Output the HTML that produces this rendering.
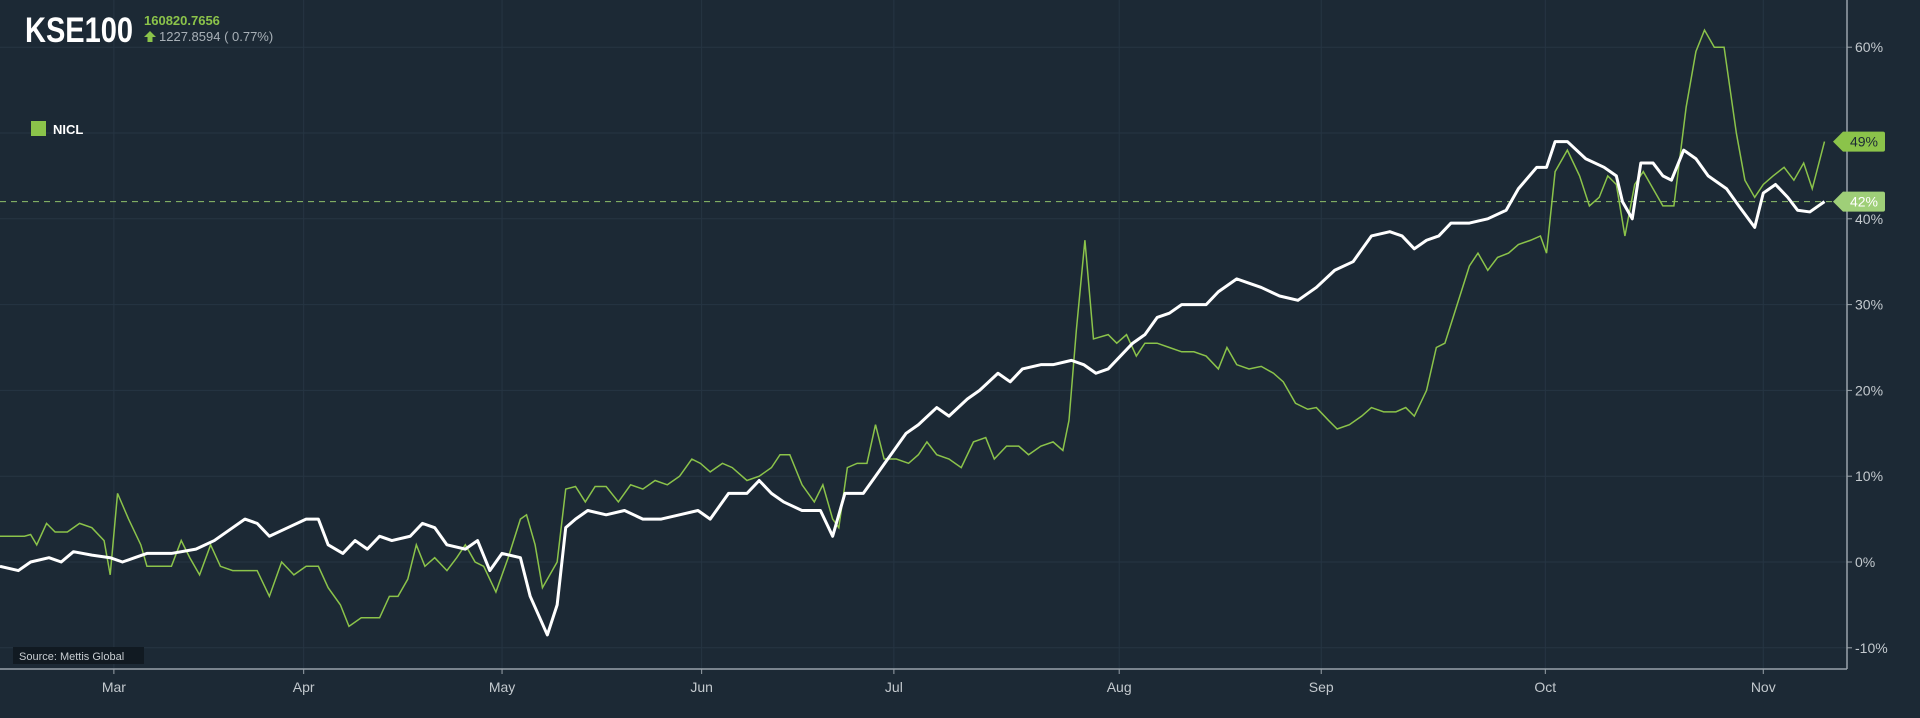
<!DOCTYPE html>
<html><head><meta charset="utf-8"><style>
body{margin:0;background:#1c2935;font-family:"Liberation Sans",sans-serif;overflow:hidden}
#wrap{position:relative;width:1920px;height:718px;background:#1c2935}
svg{position:absolute;left:0;top:0}
</style></head><body>
<div id="wrap">
<svg id="chart" width="1920" height="718"></svg>
</div>
<script>
const monthLabels=["Mar","Apr","May","Jun","Jul","Aug","Sep","Oct","Nov"];
const monthT=[9.3,24.8,41,57.3,73,91.4,107.9,126.2,144];
const yTicks=[-10,0,10,20,30,40,60];
const kseT=[0,1.5,2.5,4,5,6,7.5,9,10,11,12,14,16,17.5,19,20,21,22,23.5,25,26,26.8,28,29,30,31,32,33.5,34.5,35.5,36.5,38,39,40,41,42.5,43.3,44.7,45.5,46.2,47,48,49.5,51,52.5,54,55.5,57,58,59.5,61,62,63,64,65.5,67,68,69,70.5,71.5,72.5,74,75,76.5,77.5,79,80,81.5,82.5,83.5,85,86,87.5,88.5,89.5,90.5,91.5,92.5,93.5,94.5,95.5,96.5,97.5,98.5,99.5,101,102,103,104.5,106,107.5,109,110.5,112,113.5,114.5,115.5,116.5,117.5,118.5,120,121.5,123,124,125.5,126.3,127,128,129.5,131,132,132.5,133.3,134,135,135.8,136.5,137.5,138.5,139.5,141,142,143.3,144,145,146,146.8,147.8,149];
const kseV=[-0.5,-1,0,0.5,0,1.2,0.8,0.5,0,0.5,1,1,1.5,2.5,4,5,4.5,3,4,5,5,2,1,2.5,1.5,3,2.5,3,4.5,4,2,1.5,2.5,-1,1,0.5,-4,-8.5,-5,4,5,6,5.5,6,5,5,5.5,6,5,8,8,9.5,8,7,6,6,3,8,8,10,12,15,16,18,17,19,20,22,21,22.5,23,23,23.5,23,22,22.5,24,25.5,26.5,28.5,29,30,30,30,31.5,33,32.5,32,31,30.5,32,34,35,38,38.5,38,36.5,37.5,38,39.5,39.5,40,41,43.5,46,46,49,49,47,46,45,42,40,46.5,46.5,45,44.5,48,47,45,43.5,41.5,39,43,44,42.5,41,40.8,42];
const niclT=[0,2,2.5,3,3.8,4.5,5.5,6.5,7.5,8.5,9,9.6,10.5,11.5,12,14,14.8,15.5,16.3,17.2,18,19,21,22,23,24,25,26,26.8,27.8,28.5,29.5,31,31.8,32.5,33.3,34,34.7,35.5,36.5,37.3,38,38.8,39.5,40.5,41.5,42.5,43,43.7,44.3,45.5,46.2,47,47.8,48.6,49.5,50.5,51.5,52.5,53.5,54.5,55.5,56.5,57.2,58,59,59.8,61,62,63,63.7,64.5,65.5,66.5,67.2,68,68.5,69.2,70,70.8,71.5,72.2,73.2,74.2,75,75.7,76.5,77.5,78.5,79.5,80.5,81.2,82.2,83.2,84,85,86,86.8,87.3,87.9,88.6,89.3,90.5,91.2,92,92.8,93.5,94.5,95.5,96.5,97.5,98.5,99.5,100.2,101,102,103,104,104.8,105.8,106.8,107.5,108.5,109.2,110.2,111.2,112,113,114,114.8,115.5,116.5,117.3,118,119,120,120.7,121.5,122.3,123.2,124,125,125.8,126.3,127,128,129,129.8,130.6,131.3,132,132.7,133.5,134.2,135,135.8,136.7,137.7,138.5,139.2,140,140.8,141.8,142.5,143.3,144,144.8,145.7,146.5,147.3,148,149];
const niclV=[3,3,3.2,2,4.5,3.5,3.5,4.5,4,2.5,-1.5,8,5,2,-0.5,-0.5,2.5,0.5,-1.5,2,-0.5,-1,-1,-4,0,-1.5,-0.5,-0.5,-3,-5,-7.5,-6.5,-6.5,-4,-4,-2,2,-0.5,0.5,-1,0.5,2,0,-0.5,-3.5,0.5,5,5.5,2,-3,0,8.5,8.8,7,8.8,8.8,7,9,8.5,9.5,9,10,12,11.5,10.5,11.5,11,9.5,10,11,12.5,12.5,9,7,9,5,4,11,11.5,11.5,16,12,12,11.5,12.5,14,12.5,12,11,14,14.5,12,13.5,13.5,12.5,13.5,14,13,16.5,27,37.5,26,26.5,25.5,26.5,24,25.5,25.5,25,24.5,24.5,24,22.5,25,23,22.5,22.8,22,21,18.5,17.8,18,16.5,15.5,16,17,18,17.5,17.5,18,17,20,25,25.5,30,34.5,36,34,35.5,36,37,37.5,38,36,45.5,48,45,41.5,42.5,45,44,38,44,45.5,43.5,41.5,41.5,53,59.5,62,60,60,50,44.5,42.5,44,45,46,44.5,46.5,43.5,49];
const lastKse=42, lastNicl=49;

const NS="http://www.w3.org/2000/svg";
const svg=document.getElementById('chart');
const X0=0,X1=1824.5,T0=0,T1=149;
const xs=t=>X0+(t-T0)/(T1-T0)*(X1-X0);
const ys=v=>562-v*8.58;
const AXIS_X=1847, AXIS_Y=669;
function mk(tag,attrs,parent){const e=document.createElementNS(NS,tag);for(const k in attrs)e.setAttribute(k,attrs[k]);(parent||svg).appendChild(e);return e;}

// grid
yTicks.concat([50]).forEach(v=>{
  const l=mk('line',{x1:0,x2:AXIS_X,y1:ys(v),y2:ys(v),stroke:'#263543','stroke-width':1});
  
  
});
monthT.forEach(t=>{
  const l=mk('line',{x1:xs(t),x2:xs(t),y1:0,y2:AXIS_Y,stroke:'#263543','stroke-width':1});
  
  
});
// axes
const ax=mk('line',{x1:AXIS_X,x2:AXIS_X,y1:0,y2:AXIS_Y,stroke:'#9aa3ab','stroke-width':1.5});


const bx=mk('line',{x1:0,x2:AXIS_X,y1:AXIS_Y,y2:AXIS_Y,stroke:'#9aa3ab','stroke-width':1.5});


yTicks.forEach(v=>{
  const tk=mk('line',{x1:AXIS_X,x2:AXIS_X+5,y1:ys(v),y2:ys(v),stroke:'#9aa3ab'});
  
  
  const tx=mk('text',{x:AXIS_X+8,y:ys(v)+5,fill:'#c3c9ce','font-size':14});
  tx.textContent=v+'%';
  
  
});
monthT.forEach((t,i)=>{
  const tk=mk('line',{x1:xs(t),x2:xs(t),y1:AXIS_Y,y2:AXIS_Y+5,stroke:'#9aa3ab'});
  
  
  const tx=mk('text',{x:xs(t),y:AXIS_Y+23,fill:'#c3c9ce','font-size':14,'text-anchor':'middle'});
  tx.textContent=monthLabels[i];
  
  
});
// dashed current line
const dl=mk('line',{x1:0,x2:1832,y1:ys(lastKse),y2:ys(lastKse),stroke:'#8fbf6a','stroke-width':1,'stroke-dasharray':'6,5'});


// series
const gp=mk('polyline',{points:niclT.map((t,i)=>xs(t)+','+ys(niclV[i])).join(' '),fill:'none',stroke:'#8bc34a','stroke-width':1.5});


const wp=mk('polyline',{points:kseT.map((t,i)=>xs(t)+','+ys(kseV[i])).join(' '),fill:'none',stroke:'#ffffff','stroke-width':3,'stroke-linejoin':'round'});


// tags
function tag(v,bg,fg,name){
  const y=ys(v);
  const p=mk('path',{d:`M1833 ${y} L1843 ${y-10} L1883 ${y-10} Q1885 ${y-10} 1885 ${y-8} L1885 ${y+8} Q1885 ${y+10} 1883 ${y+10} L1843 ${y+10} Z`,fill:bg});
  
  
  const t=mk('text',{x:1864,y:y+5,fill:fg,'font-size':14,'text-anchor':'middle'});
  t.textContent=v+'%';
  
  
}
tag(lastNicl,'#8bc34a','#1c2935','nicl');
tag(lastKse,'#9fcf78','#ffffff','kse100');
// header
const h=mk('text',{x:25,y:42,fill:'#ffffff','font-size':35,'font-weight':'bold','textLength':108,'lengthAdjust':'spacingAndGlyphs'});
h.textContent='KSE100';


const pv=mk('text',{x:144,y:25,fill:'#8bc34a','font-size':13,'font-weight':'bold'});
pv.textContent='160820.7656';


const ar=mk('path',{d:'M144 37 L150 31 L156 37 L152.5 37 L152.5 42 L147.5 42 L147.5 37 Z',fill:'#8bc34a'});


const ch=mk('text',{x:159,y:41,fill:'#a8b0b7','font-size':13});
ch.textContent='1227.8594 ( 0.77%)';


// legend
const ls=mk('rect',{x:31,y:121,width:15,height:15,fill:'#8bc34a'});


const lt=mk('text',{x:53,y:134,fill:'#ffffff','font-size':13,'font-weight':'bold'});
lt.textContent='NICL';


// source
const sb=mk('rect',{x:13,y:647,width:131,height:17,fill:'#111a22'});


const st=mk('text',{x:19,y:660,fill:'#c8cdd1','font-size':11});
st.textContent='Source: Mettis Global';


</script>
</body></html>
